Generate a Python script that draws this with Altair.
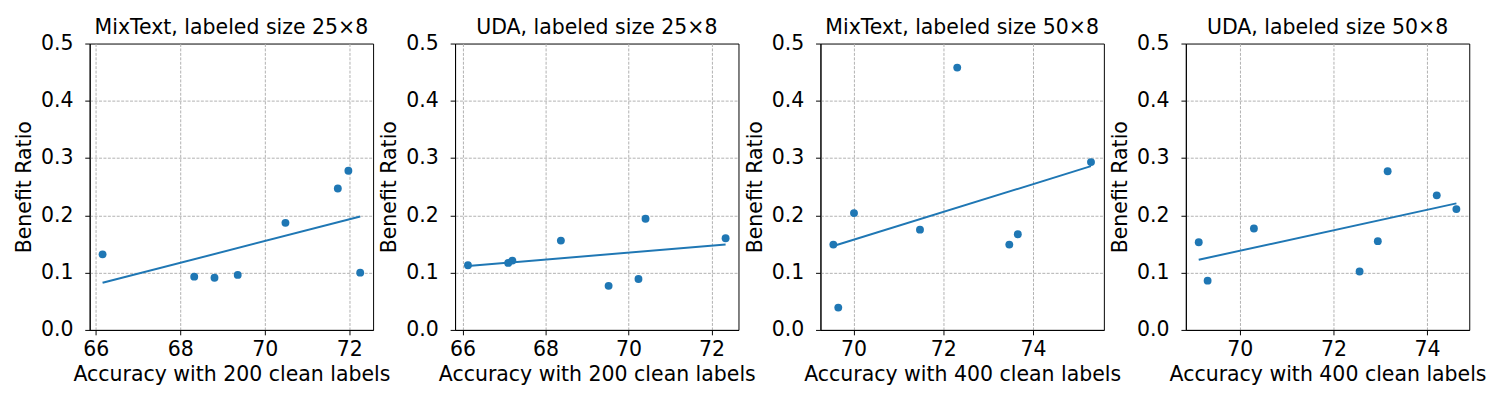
import altair as alt
import pandas as pd

# Panel 1: MixText, labeled size 25x8
mix25_x = [66.16, 68.33, 68.81, 69.36, 70.49, 71.73, 71.98, 72.26]
mix25_y = [0.132, 0.093, 0.091, 0.096, 0.187, 0.247, 0.278, 0.100]
# Panel 2: UDA, labeled size 25x8
uda25_x = [66.13, 67.10, 67.20, 68.37, 69.52, 70.24, 70.41, 72.34]
uda25_y = [0.113, 0.117, 0.121, 0.156, 0.077, 0.089, 0.194, 0.160]
# Panel 3: MixText, labeled size 50x8
mix50_x = [69.55, 69.66, 70.01, 71.48, 72.31, 73.47, 73.66, 75.29]
mix50_y = [0.149, 0.039, 0.204, 0.175, 0.458, 0.149, 0.167, 0.293]
# Panel 4: UDA, labeled size 50x8
uda50_x = [69.12, 69.31, 70.30, 72.56, 72.95, 73.16, 74.21, 74.63]
uda50_y = [0.153, 0.086, 0.177, 0.102, 0.155, 0.277, 0.235, 0.211]

titles = ["MixText, labeled size 25×8", "UDA, labeled size 25×8",
          "MixText, labeled size 50×8", "UDA, labeled size 50×8"]
x_titles = ["Accuracy with 200 clean labels", "Accuracy with 200 clean labels",
            "Accuracy with 400 clean labels", "Accuracy with 400 clean labels"]
x_ticks_small = [66, 68, 70, 72]
x_ticks_large = [70, 72, 74]
y_ticks = [0.0, 0.1, 0.2, 0.3, 0.4, 0.5]

BLUE = "#1f77b4"
FONT = "DejaVu Sans"
FS = 20.8


def panel(xs, ys, title, xtitle, ticks):
    df = pd.DataFrame({"x": xs, "y": ys})
    lo, hi = min(xs), max(xs)
    m = (hi - lo) * 0.05
    xenc = alt.X("x:Q", scale=alt.Scale(domain=[lo - m, hi + m], nice=False, zero=False),
                 axis=alt.Axis(values=ticks, format="d", title=xtitle, labelPadding=5,
                               labelFlush=False))
    yenc = alt.Y("y:Q", scale=alt.Scale(domain=[0, 0.5], nice=False),
                 axis=alt.Axis(values=y_ticks, format=".1f", title="Benefit Ratio",
                               labelPadding=12,
                               gridOpacity={"condition": {"test": "datum.value >= 0.5 || datum.value <= 0",
                                                          "value": 0}, "value": 1}))
    base = alt.Chart(df)
    pts = base.mark_circle(size=64, color=BLUE, opacity=1).encode(x=xenc, y=yenc)
    line = base.transform_regression("x", "y").mark_line(color=BLUE, strokeWidth=2).encode(
        x="x:Q", y="y:Q")
    return alt.layer(pts, line).properties(
        width=288, height=291,
        title=alt.TitleParams(title, frame="group", anchor="middle"))


charts = [
    panel(mix25_x, mix25_y, titles[0], x_titles[0], x_ticks_small),
    panel(uda25_x, uda25_y, titles[1], x_titles[1], x_ticks_small),
    panel(mix50_x, mix50_y, titles[2], x_titles[2], x_ticks_large),
    panel(uda50_x, uda50_y, titles[3], x_titles[3], x_ticks_large),
]

chart = alt.hconcat(*charts, spacing=83.3, bounds="flush").configure_view(
    stroke="black", strokeWidth=1
).configure_axis(
    grid=True, gridColor="#b0b0b0", gridDash=[3, 1.5], gridWidth=1,
    domainColor="black", domainWidth=1,
    tickColor="black", tickSize=5, tickWidth=1,
    labelFont=FONT, labelFontSize=FS, labelColor="black",
    titleFont=FONT, titleFontSize=FS, titleColor="black", titleFontWeight="normal",
    titlePadding=6,
).configure_title(
    font=FONT, fontSize=FS, fontWeight="normal", color="black", offset=-6
).properties(background="white")

chart.save("out.html", embed_options={"renderer": "svg", "actions": False})
